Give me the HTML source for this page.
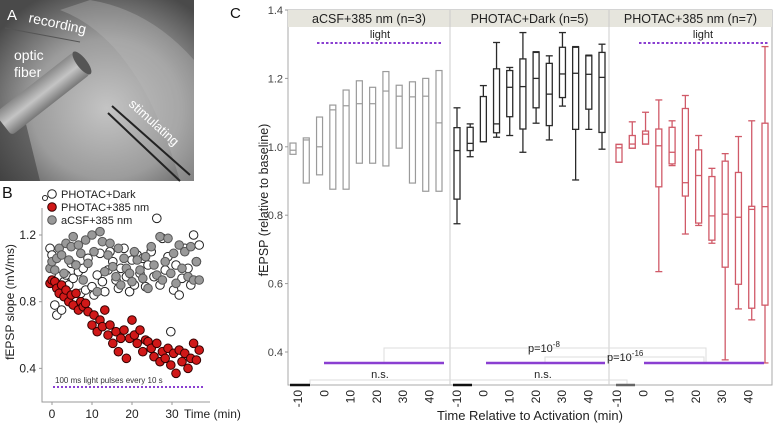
<!DOCTYPE html>
<html><head><meta charset="utf-8">
<style>
html,body{margin:0;padding:0;background:#fff;}
svg{display:block;font-family:"Liberation Sans",Arial,sans-serif;}
</style></head>
<body>
<svg id="fig" width="780" height="425" viewBox="0 0 780 425" xmlns="http://www.w3.org/2000/svg">
<defs>
<radialGradient id="glow" cx="0.55" cy="0.6" r="0.7">
<stop offset="0" stop-color="#c4c4c4"/><stop offset="0.55" stop-color="#9c9c9c"/><stop offset="1" stop-color="#4a4a4a"/>
</radialGradient>
<linearGradient id="fib" x1="0" y1="0" x2="0" y2="1">
<stop offset="0" stop-color="#888"/><stop offset="0.5" stop-color="#c4c4c4"/><stop offset="1" stop-color="#777"/>
</linearGradient>
</defs>
<g>
<rect x="0" y="0" width="194" height="181" fill="url(#glow)"/>
<path d="M60 10 Q140 40 180 181 L194 181 L194 60 Q150 10 90 0 Z" fill="#bbb" opacity="0.35"/>
<path d="M0 110 L0 181 L40 181 L25 120 Z" fill="#333" opacity="0.5"/>
<g transform="translate(78,66) rotate(-38)">
<rect x="-95" y="-14" width="100" height="28" rx="4" fill="url(#fib)"/>
<ellipse cx="5" cy="0" rx="5" ry="14" fill="#555"/>
</g>
<line x1="112" y1="106" x2="190" y2="175" stroke="#222" stroke-width="2"/>
<line x1="108" y1="113" x2="180" y2="181" stroke="#222" stroke-width="2"/>
<line x1="5" y1="28" x2="80" y2="42" stroke="#555" stroke-width="1"/>
<text x="7" y="20" fill="#fff" font-size="15">A</text>
<text x="28" y="22" fill="#fff" font-size="14" transform="rotate(12,28,22)">recording</text>
<text x="14" y="60" fill="#fff" font-size="14">optic</text>
<text x="14" y="77" fill="#fff" font-size="14">fiber</text>
<text x="128" y="105" fill="#fff" font-size="13" transform="rotate(42,128,105)">stimulating</text>
</g>
<text x="230" y="18" font-size="15" fill="#111">C</text>
<text x="2" y="198" font-size="16" fill="#111">B</text>
<g id="pb"></g>
<g id="pc"></g>
</svg>
<script>
const NS="http://www.w3.org/2000/svg";
function mk(parent,tag,attrs,txt){const e=document.createElementNS(NS,tag);for(const k in attrs)e.setAttribute(k,attrs[k]);if(txt!==undefined)e.textContent=txt;parent.appendChild(e);return e;}

// ---------- Panel B data ----------
const scatterTimes=[-0.5,0,0.7,1.2,1.8,2.4,3,3.5,4.2,4.8,5.3,6,6.6,7.2,7.8,8.4,9,10,10.5,11.3,12,12.6,13.2,14,14.5,15.2,16,16.6,17.2,18,18.6,19.4,20,20.6,21.3,22,22.7,23.4,24,24.8,25.5,26.2,27,27.6,28.3,29,29.7,30.4,31,31.8,32.5,33.2,34,34.7,35.4,36.1,36.8];
const whiteVals=[1.12,1.08,0.78,0.72,0.95,0.75,0.92,0.96,0.9,1.03,0.94,1.02,0.98,0.85,1.0,0.87,1.06,0.89,0.84,0.96,1.09,0.92,0.86,0.99,1.1,1.04,0.93,0.88,1.0,1.12,0.95,0.86,1.05,0.9,1.08,0.97,1.06,0.89,1.02,1.1,0.95,1.3,0.9,1.18,0.99,1.07,0.62,0.87,1.02,0.84,0.94,1.12,1.0,0.9,1.2,1.04,1.14];
const grayVals=[1.0,1.04,0.99,1.06,1.12,1.08,0.97,1.15,1.05,1.13,1.19,1.02,1.14,1.09,0.93,1.17,1.03,1.2,1.1,0.86,1.22,1.16,0.98,1.08,1.15,1.01,0.95,1.12,0.9,1.06,1.0,0.97,0.92,1.1,1.05,0.99,0.94,1.07,0.88,1.13,1.02,0.96,1.19,0.93,1.04,1.18,0.97,1.09,0.91,1.14,1.0,1.1,0.95,1.13,0.93,1.04,0.93];
const redVals=[0.91,0.93,0.92,0.88,0.85,0.9,0.83,0.87,0.8,0.84,0.78,0.85,0.75,0.8,0.77,0.79,0.74,0.66,0.72,0.62,0.69,0.65,0.75,0.6,0.66,0.55,0.62,0.5,0.58,0.63,0.46,0.58,0.69,0.6,0.55,0.63,0.5,0.57,0.56,0.52,0.47,0.55,0.44,0.5,0.46,0.52,0.42,0.49,0.37,0.51,0.44,0.49,0.4,0.46,0.55,0.45,0.51];
const bTicksY=[0.4,0.8,1.2];
const bTicksX=[0,10,20,30];

// ---------- Panel C data ----------
const facetNames=["aCSF+385 nm (n=3)","PHOTAC+Dark (n=5)","PHOTAC+385 nm (n=7)"];
const boxTimes=[-10,-5,0,5,10,15,20,25,30,35,40,45];
const xTickLabels=[-10,0,10,20,30,40];
const cTicksY=[0.4,0.6,0.8,1.0,1.2,1.4];
const acsfQ1=[0.978,0.894,0.918,0.876,0.876,0.952,0.952,0.944,0.996,0.894,0.87,0.87];
const acsfMed=[0.99,1.02,1.0,1.108,1.12,1.126,1.126,1.163,1.148,1.146,1.148,1.07];
const acsfQ3=[1.011,1.026,1.087,1.122,1.166,1.193,1.174,1.22,1.18,1.19,1.2,1.223];
const darkLo=[0.775,0.971,1.015,1.028,1.033,0.984,1.069,1.02,1.119,0.903,1.051,0.993];
const darkQ1=[0.847,0.989,1.015,1.041,1.088,1.052,1.114,1.062,1.144,1.051,1.11,1.042];
const darkMed=[0.989,1.01,1.015,1.067,1.174,1.176,1.2,1.154,1.213,1.215,1.212,1.203];
const darkQ3=[1.056,1.057,1.147,1.228,1.223,1.257,1.276,1.244,1.291,1.291,1.266,1.276];
const darkHi=[1.114,1.067,1.179,1.305,1.232,1.334,1.278,1.266,1.334,1.293,1.268,1.3];
const lightLo=[0.955,0.996,1.008,0.635,0.945,0.745,0.77,0.718,0.377,0.526,0.494,0.368];
const lightQ1=[0.955,0.996,1.008,0.883,0.95,0.856,0.777,0.727,0.648,0.598,0.528,0.537];
const lightMed=[0.997,1.008,1.037,1.003,0.984,0.895,0.916,0.798,0.803,0.794,0.817,0.825];
const lightQ3=[1.007,1.033,1.046,1.052,1.057,1.112,0.991,0.913,0.958,0.925,0.826,1.069];
const lightHi=[1.007,1.073,1.101,1.137,1.076,1.15,1.033,0.937,0.98,1.03,1.076,1.293];

// ---------- Panel B draw ----------
(function(){
  const g=document.getElementById('pb');
  const xB=t=>52+t*4.0;
  const yB=v=>235+(1.2-v)*166.7;
  const ax=mk(g,'path',{d:'M42 208 L42 402 L210 402',fill:'none',stroke:'#999','stroke-width':1});
  
  
  bTicksY.forEach(v=>{
    mk(g,'line',{x1:39,x2:42,y1:yB(v),y2:yB(v),stroke:'#999'});
    const t=mk(g,'text',{x:36,y:yB(v)+4,'font-size':12,'text-anchor':'end',fill:'#222'},v.toFixed(1));
    
    
  });
  bTicksX.forEach(v=>{
    mk(g,'line',{x1:xB(v),x2:xB(v),y1:402,y2:405,stroke:'#999'});
    const t=mk(g,'text',{x:xB(v),y:418,'font-size':12,'text-anchor':'middle',fill:'#222'},String(v));
    
    
  });
  const xt=mk(g,'text',{x:xB(30)+12,y:418,'font-size':12,fill:'#222'},'Time (min)');
  
  
  const yt=mk(g,'text',{x:0,y:0,'font-size':12,'text-anchor':'middle',fill:'#222',transform:'translate(14,302) rotate(-90)'},'fEPSP slope (mV/ms)');
  
  
  const series=[[whiteVals,'#fff','#222','white'],[grayVals,'#999','#555','gray'],[redVals,'#d01818','#300','red']];
  series.forEach(s=>{
    const n=Math.min(s[0].length,scatterTimes.length);
    for(let i=0;i<n;i++){
      const c=mk(g,'circle',{cx:xB(scatterTimes[i]),cy:yB(s[0][i]),r:4.3,fill:s[1],stroke:s[2],'stroke-width':1});
      
      
    }
  });
  const dl=mk(g,'line',{x1:53,x2:204,y1:387,y2:387,stroke:'#8a3fd1','stroke-width':2,'stroke-dasharray':'2,2'});
  
  
  const lt=mk(g,'text',{x:55,y:383,'font-size':8,fill:'#333'},'100 ms  light pulses every 10 s');
  
  
  const leg=[['PHOTAC+Dark','#fff','#222',194],['PHOTAC+385 nm','#d01818','#300',207],['aCSF+385 nm','#999','#555',220]];
  leg.forEach(l=>{
    const c=mk(g,'circle',{cx:52,cy:l[3],r:4.3,fill:l[1],stroke:l[2]});
    
    
    const t=mk(g,'text',{x:61,y:l[3]+4,'font-size':11,fill:'#222'},l[0]);
    
    
  });
  mk(g,'circle',{cx:45,cy:198,r:2.5,fill:'#fff',stroke:'#222'});
})();

// ---------- Panel C draw ----------
(function(){
  const g=document.getElementById('pc');
  const L=288,R=772,T=10,B=385;
  const facetX=[288,450,609];
  const boxStart=[293,457,619], boxEnd=[439,602,765];
  const labStart=[298,457,617];
  const yC=v=>10+(1.4-v)*342;
  const xC=(f,t)=>boxStart[f]+(t+10)*(boxEnd[f]-boxStart[f])/55;
  const xL=(f,t)=>labStart[f]+(t+10)*2.63;
  const bg=mk(g,'rect',{x:L,y:T,width:R-L,height:B-T,fill:'#fff',stroke:'#aaa','stroke-width':1});
  
  
  for(let f=0;f<3;f++){
    const x0=facetX[f],x1=f<2?facetX[f+1]:R;
    const s=mk(g,'rect',{x:x0,y:T,width:x1-x0,height:17,fill:'#e6e5dd'});
    
    
    const st=mk(g,'text',{x:(x0+x1)/2,y:T+13,'font-size':12.5,'text-anchor':'middle',fill:'#222'},facetNames[f]);
    
    
    if(f>0){mk(g,'line',{x1:x0,x2:x0,y1:T,y2:B,stroke:'#ccc'});}
    xTickLabels.forEach(t=>{
      const xx=xL(f,t);
      const tl=mk(g,'text',{x:0,y:0,'font-size':12,'text-anchor':'end',fill:'#222',transform:'translate('+(xx+4)+','+(B+5)+') rotate(-90)'},String(t));
      
      
    });
  }
  cTicksY.forEach(v=>{
    mk(g,'line',{x1:L-3,x2:L,y1:yC(v),y2:yC(v),stroke:'#999'});
    const t=mk(g,'text',{x:L-5,y:yC(v)+4,'font-size':11,'text-anchor':'end',fill:'#444'},v.toFixed(1));
    
    
  });
  const yt=mk(g,'text',{x:0,y:0,'font-size':12.5,'text-anchor':'middle',fill:'#222',transform:'translate(268,200) rotate(-90)'},'fEPSP (relative to baseline)');
  
  
  const xt=mk(g,'text',{x:530,y:420,'font-size':13,'text-anchor':'middle',fill:'#222'},'Time Relative to Activation (min)');
  
  

  const w=5;
  function box(f,i,lo,q1,med,q3,hi,col,sw){
    const x=xC(f,boxTimes[i]);
    const grp=mk(g,'g',{stroke:col,'stroke-width':sw,fill:'none'});
    
    
    if(hi!==null){
      mk(grp,'line',{x1:x,x2:x,y1:yC(hi),y2:yC(q3)});
      mk(grp,'line',{x1:x-3.5,x2:x+3.5,y1:yC(hi),y2:yC(hi)});
      mk(grp,'line',{x1:x,x2:x,y1:yC(q1),y2:yC(lo)});
      mk(grp,'line',{x1:x-3.5,x2:x+3.5,y1:yC(lo),y2:yC(lo)});
    }
    mk(grp,'rect',{x:x-w/2-0.5,y:yC(q3),width:w+1,height:Math.max(1,yC(q1)-yC(q3))});
    mk(grp,'line',{x1:x-w/2-0.5,x2:x+w/2+0.5,y1:yC(med),y2:yC(med)});
  }
  boxTimes.forEach((t,i)=>box(0,i,null,acsfQ1[i],acsfMed[i],acsfQ3[i],null,'#9a9a9a',1.2));
  boxTimes.forEach((t,i)=>box(1,i,darkLo[i],darkQ1[i],darkMed[i],darkQ3[i],darkHi[i],'#2a2a2a',1.3));
  boxTimes.forEach((t,i)=>box(2,i,lightLo[i],lightQ1[i],lightMed[i],lightQ3[i],lightHi[i],'#d05a68',1.3));

  [[317,443,380],[639,768,703]].forEach(d=>{
    const l=mk(g,'line',{x1:d[0],x2:d[1],y1:43,y2:43,stroke:'#8a3fd1','stroke-width':2,'stroke-dasharray':'2.5,2'});
    
    
    const t=mk(g,'text',{x:d[2],y:38,'font-size':11,'text-anchor':'middle',fill:'#222'},'light');
    
    
  });
  mk(g,'path',{d:'M384 363 L384 348 L706 348 L706 363',fill:'none',stroke:'#ddd'});
  mk(g,'path',{d:'M545 363 L545 357 L704 357 L704 363',fill:'none',stroke:'#ddd'});
  mk(g,'path',{d:'M310 385 L310 380 L627 380 L627 385',fill:'none',stroke:'#ddd'});
  [[324,444],[486,605],[644,764]].forEach(d=>{
    const l=mk(g,'line',{x1:d[0],x2:d[1],y1:363,y2:363,stroke:'#8a3fd1','stroke-width':2.5});
    
    
  });
  [[290,310,'#111'],[453,472,'#111'],[616,635,'#666']].forEach(d=>{
    const l=mk(g,'line',{x1:d[0],x2:d[1],y1:385,y2:385,stroke:d[2],'stroke-width':2.5});
    
    
  });
  const ann=[[380,378,'n.s.'],[543,378,'n.s.']];
  ann.forEach(a=>{
    const t=mk(g,'text',{x:a[0],y:a[1],'font-size':11,'text-anchor':'middle',fill:'#222'},a[2]);
    
    
  });
  const p1=mk(g,'text',{x:528,y:352,'font-size':11,fill:'#222'});
  
  
  mk(p1,'tspan',{},'p=10');
  mk(p1,'tspan',{dy:-5,'font-size':8},'-8');
  const p2=mk(g,'text',{x:607,y:361,'font-size':11,fill:'#222'});
  
  
  mk(p2,'tspan',{},'p=10');
  mk(p2,'tspan',{dy:-5,'font-size':8},'-16');
})();
</script>
</body></html>
